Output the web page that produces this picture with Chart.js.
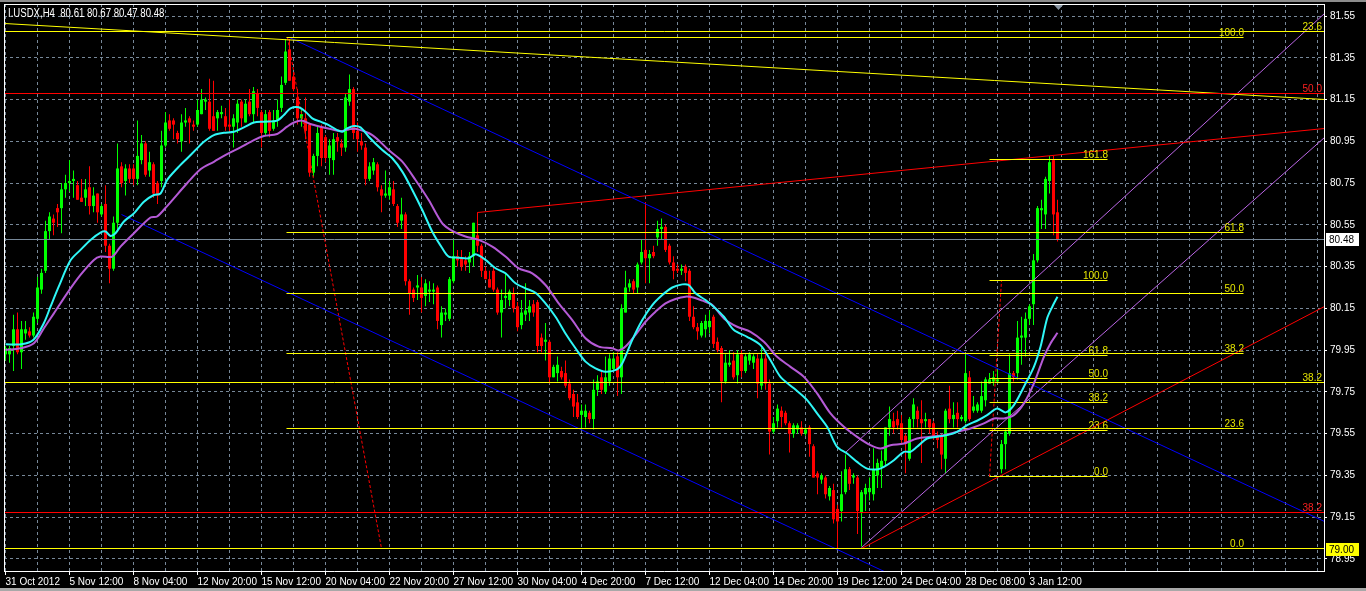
<!DOCTYPE html>
<html><head><meta charset="utf-8">
<script src="https://cdn.jsdelivr.net/npm/chart.js@4.4.1/dist/chart.umd.min.js"></script>
<style>html,body{margin:0;padding:0;background:#000;overflow:hidden}canvas{display:block}</style>
</head><body>
<canvas id="c" width="1366" height="591"></canvas>
<script>
// ---------- DATA (H4 bars, index 0 = 31 Oct 2012) ----------
const opens = [
79.93,79.93,79.97,80.05,79.94,80.03,80.04,80.02,80.10,80.24,
80.33,80.52,80.58,80.63,80.63,80.72,80.75,80.76,80.74,80.68,
80.68,80.73,80.64,80.70,80.60,80.65,80.45,80.34,80.56,80.83,
80.76,80.82,80.82,80.77,80.86,80.94,80.81,80.84,80.75,80.76,
80.93,81.05,81.05,80.99,80.95,81.04,81.06,81.03,81.03,81.08,
81.14,81.14,81.07,81.06,81.08,81.07,81.03,81.02,81.04,81.14,
81.04,81.14,81.08,81.18,81.09,80.99,81.09,81.01,81.05,81.11,
81.23,81.39,81.26,81.16,81.06,81.06,81.03,80.80,80.88,81.02,
80.97,80.87,80.86,80.97,80.94,80.92,81.14,81.20,81.00,80.95,
80.92,80.77,80.81,80.84,80.72,80.69,80.69,80.72,80.64,80.57,
80.60,80.28,80.24,80.25,80.25,80.21,80.23,80.23,80.25,80.07,
80.12,80.10,80.28,80.40,80.39,80.38,80.37,80.40,80.50,80.45,
80.33,80.29,80.33,80.24,80.13,80.20,80.19,80.22,80.16,80.07,
80.12,80.13,80.17,80.18,80.01,79.99,79.99,79.82,79.84,79.85,
79.84,79.79,79.74,79.70,79.64,79.63,79.65,79.62,79.76,79.82,
79.75,79.80,79.86,79.92,79.82,80.13,80.25,80.28,80.25,80.37,
80.43,80.39,80.42,80.49,80.53,80.54,80.45,80.37,80.34,80.33,
80.35,80.33,80.11,80.06,80.02,80.05,80.06,80.11,79.99,79.96,
79.80,79.88,79.90,79.83,79.93,79.85,79.90,79.89,79.91,79.78,
79.91,79.79,79.56,79.61,79.66,79.65,79.60,79.55,79.57,79.58,
79.55,79.58,79.49,79.36,79.33,79.34,79.25,79.28,79.19,79.18,
79.27,79.38,79.34,79.34,79.17,79.26,79.27,79.26,79.35,79.39,
79.42,79.58,79.61,79.62,79.60,79.54,79.43,79.62,79.66,79.62,
79.61,79.62,79.60,79.54,79.54,79.43,79.67,79.62,79.65,79.62,
79.61,79.82,79.66,79.66,79.66,79.71,79.79,79.80,79.80,79.38,
79.50,79.55,79.84,79.84,80.01,80.01,80.10,80.17,80.38,80.62,
80.60,80.76,80.86,80.61];
const highs = [
79.97,79.97,80.12,80.13,80.09,80.09,80.06,80.13,80.30,80.34,
80.57,80.61,80.60,80.65,80.75,80.79,80.86,80.81,80.76,80.77,
80.77,80.83,80.73,80.70,80.65,80.74,80.46,80.59,80.94,80.85,
80.84,80.84,80.84,81.05,80.98,80.95,80.90,80.85,80.76,81.00,
81.09,81.08,81.06,81.00,81.08,81.11,81.07,81.05,81.15,81.20,
81.16,81.25,81.24,81.10,81.12,81.11,81.15,81.08,81.15,81.15,
81.15,81.20,81.21,81.20,81.10,81.10,81.10,81.10,81.15,81.26,
81.44,81.44,81.28,81.20,81.10,81.16,81.04,80.89,81.02,81.03,
80.98,80.96,80.99,80.99,80.96,81.18,81.27,81.21,81.04,80.99,
80.94,80.85,80.87,80.85,80.74,80.81,80.76,80.76,80.65,80.68,
80.61,80.29,80.25,80.31,80.30,80.29,80.28,80.27,80.26,80.16,
80.15,80.30,80.48,80.43,80.43,80.40,80.42,80.56,80.61,80.46,
80.35,80.33,80.35,80.25,80.24,80.32,80.24,80.25,80.18,80.19,
80.27,80.19,80.19,80.19,80.03,80.08,80.00,79.88,79.92,79.87,
79.90,79.81,79.76,79.74,79.69,79.69,79.66,79.81,79.83,79.85,
79.92,79.93,79.94,79.94,80.17,80.33,80.29,80.29,80.37,80.48,
80.66,80.43,80.45,80.57,80.58,80.55,80.46,80.40,80.36,80.36,
80.36,80.34,80.16,80.08,80.09,80.12,80.14,80.12,80.01,79.97,
79.93,79.95,79.94,79.95,79.95,79.93,79.94,79.93,79.93,79.96,
79.93,79.81,79.63,79.69,79.68,79.66,79.61,79.60,79.60,79.61,
79.58,79.59,79.50,79.37,79.36,79.35,79.30,79.31,79.21,79.37,
79.45,79.39,79.36,79.35,79.28,79.31,79.34,79.48,79.43,79.47,
79.58,79.68,79.65,79.66,79.64,79.55,79.63,79.72,79.68,79.71,
79.65,79.62,79.61,79.56,79.55,79.67,79.78,79.70,79.70,79.64,
79.93,79.85,79.73,79.70,79.80,79.82,79.84,79.85,79.86,79.52,
79.57,79.93,79.85,80.09,80.11,80.13,80.17,80.41,80.64,80.67,
80.78,80.88,80.88,80.67];
const lows = [
79.90,79.89,79.85,79.93,79.86,80.00,80.01,80.01,80.08,80.22,
80.32,80.48,80.50,80.54,80.51,80.68,80.71,80.68,80.67,80.66,
80.64,80.60,80.61,80.56,80.59,80.42,80.27,80.33,80.52,80.73,
80.69,80.75,80.74,80.74,80.84,80.78,80.78,80.68,80.65,80.73,
80.92,81.00,80.96,80.94,80.90,81.02,80.94,81.00,81.02,81.08,
81.10,81.00,81.00,81.00,81.06,81.00,80.99,80.92,80.99,81.02,
81.04,81.07,81.04,81.07,80.92,80.98,80.97,81.00,81.02,81.09,
81.22,81.24,81.19,81.03,81.02,80.96,80.78,80.78,80.83,80.83,
80.85,80.79,80.79,80.90,80.88,80.90,81.12,80.96,80.90,80.91,
80.74,80.76,80.79,80.71,80.61,80.68,80.67,80.64,80.54,80.53,
80.26,80.12,80.18,80.19,80.13,80.16,80.18,80.17,80.05,80.01,
80.09,80.09,80.27,80.35,80.33,80.33,80.32,80.35,80.42,80.30,
80.29,80.25,80.23,80.12,80.01,80.15,80.16,80.13,80.04,80.05,
80.09,80.09,80.11,79.94,79.94,79.90,79.79,79.82,79.80,79.81,
79.77,79.71,79.63,79.62,79.57,79.58,79.60,79.57,79.73,79.74,
79.74,79.78,79.85,79.73,79.74,80.13,80.23,80.22,80.22,80.36,
80.27,80.27,80.39,80.45,80.48,80.42,80.36,80.29,80.32,80.31,
80.28,80.09,80.05,80.00,80.01,80.01,80.03,79.96,79.94,79.70,
79.79,79.87,79.81,79.79,79.82,79.84,79.88,79.86,79.72,79.76,
79.76,79.45,79.55,79.58,79.58,79.59,79.46,79.53,79.55,79.54,
79.54,79.44,79.34,79.26,79.31,79.24,79.23,79.12,79.00,79.13,
79.26,79.28,79.31,79.07,79.01,79.18,79.23,79.23,79.29,79.29,
79.40,79.54,79.55,79.57,79.50,79.36,79.42,79.58,79.58,79.41,
79.58,79.55,79.52,79.48,79.38,79.36,79.60,79.58,79.58,79.61,
79.60,79.61,79.65,79.65,79.65,79.68,79.79,79.78,79.79,79.36,
79.38,79.54,79.80,79.81,79.88,79.92,80.07,80.07,80.37,80.53,
80.53,80.70,80.50,80.47];
const closes = [
79.96,79.96,80.05,79.94,80.05,80.05,80.02,80.11,80.25,80.32,
80.52,80.59,80.56,80.61,80.72,80.75,80.76,80.77,80.67,80.66,
80.72,80.64,80.69,80.61,80.64,80.45,80.34,80.56,80.82,80.75,
80.82,80.77,80.77,80.88,80.94,80.79,80.85,80.70,80.69,80.93,
81.04,81.01,81.03,80.96,81.04,81.05,81.04,81.02,81.10,81.15,
81.15,81.01,81.00,81.09,81.09,81.02,81.02,81.06,81.13,81.06,
81.13,81.08,81.19,81.11,80.99,81.08,81.00,81.05,81.10,81.22,
81.38,81.24,81.20,81.06,81.08,81.00,80.80,80.88,80.99,80.87,
80.87,80.93,80.96,80.95,80.92,81.16,81.20,80.99,80.96,80.93,
80.77,80.83,80.85,80.73,80.69,80.70,80.73,80.65,80.56,80.60,
80.28,80.22,80.20,80.26,80.20,80.27,80.24,80.24,80.09,80.13,
80.13,80.29,80.40,80.38,80.35,80.36,80.40,80.56,80.45,80.33,
80.29,80.25,80.24,80.13,80.19,80.21,80.23,80.15,80.06,80.13,
80.14,80.16,80.13,79.97,79.97,80.00,79.82,79.87,79.88,79.82,
79.78,79.72,79.68,79.63,79.66,79.66,79.62,79.76,79.80,79.76,
79.82,79.91,79.91,79.82,80.15,80.25,80.27,80.24,80.36,80.42,
80.39,80.41,80.40,80.53,80.54,80.43,80.37,80.33,80.33,80.34,
80.32,80.11,80.06,80.04,80.08,80.09,80.09,79.98,79.95,79.80,
79.89,79.89,79.82,79.93,79.85,79.92,79.93,79.92,79.79,79.91,
79.79,79.56,79.60,79.67,79.63,79.60,79.55,79.59,79.59,79.55,
79.57,79.50,79.34,79.34,79.35,79.26,79.29,79.14,79.13,79.26,
79.38,79.31,79.35,79.18,79.27,79.29,79.29,79.38,79.41,79.42,
79.58,79.62,79.58,79.59,79.52,79.50,79.62,79.69,79.62,79.60,
79.62,79.58,79.54,79.52,79.45,79.66,79.62,79.64,79.62,79.63,
79.84,79.62,79.68,79.69,79.73,79.81,79.81,79.82,79.81,79.50,
79.56,79.84,79.82,80.01,80.02,80.10,80.16,80.38,80.63,80.63,
80.77,80.85,80.60,80.48];

// moving averages (bar index, price)
const fastMaBars = [0,4,7,9.6,11.25,13.3,16.25,18.75,21.25,23.75,25,26.25,27.5,29.6,32.1,34.6,37.1,38.75,40.4,42.9,45.4,47.9,49.6,52.1,54.6,57.1,59.6,62.1,64.6,67.9,69.6,71.25,73.3,75,76.7,78.75,80.8,82.9,84.2,85.4,87.1,88.75,90.8,94.2,96.7,99.2,101.7,104.2,106.7,109.2,110.8,113.3,115.8,117.5,120,122.5,125,127.5,130,132.5,135,137.5,140,142.5,145,147.5,150,152.9,154.2,156.7,159.2,161.7,164.2,166.7,169.2,170.8,172.5,175,177.5,179.6,182.1,185.4,188.75,191.25,193.75,197.1,200.4,202.9,205.4,207.9,210.4,212.9,215.4,217.9,219.6,222.1,224.6,226.25,227.9,230.4,232.9,235.4,237.9,240.4,242.9,245.4,247.9,250,252.1,254.6,257.1,258.75,260.4,261.7,263];
const fastMaValues = [79.978,79.978,80.0,80.08,80.158,80.254,80.38,80.43,80.478,80.513,80.518,80.497,80.51,80.566,80.605,80.661,80.693,80.70,80.765,80.82,80.868,80.916,80.948,80.98,80.991,80.996,81.017,81.04,81.044,81.049,81.076,81.108,81.113,81.092,81.06,81.044,81.028,81.004,80.996,81.012,81.023,81.017,80.972,80.908,80.869,80.805,80.717,80.621,80.517,80.438,80.398,80.393,80.39,80.409,80.382,80.342,80.318,80.27,80.246,80.225,80.174,80.11,80.03,79.959,79.895,79.863,79.847,79.858,79.887,79.999,80.094,80.166,80.214,80.25,80.265,80.262,80.222,80.19,80.15,80.11,80.046,80.014,79.974,79.902,79.822,79.767,79.711,79.647,79.583,79.487,79.455,79.415,79.383,79.379,79.391,79.423,79.463,79.463,79.487,79.527,79.535,79.543,79.559,79.591,79.612,79.639,79.671,79.652,79.687,79.775,79.87,79.966,80.102,80.158,80.206];
const slowMaBars = [0,3.75,7.1,9.6,12.1,15.4,18.75,22.1,23.75,26.7,28.75,32.1,36.25,37.9,40.4,45.4,48.75,52.1,55.4,58.75,62.1,64.6,67.9,70.4,72.1,74.2,76.25,78.75,81.25,83.75,85.8,87.5,91.7,95.8,99.2,102.5,105.8,109.2,111.7,115,118.3,121.7,125,128.3,131.7,135,138.3,141.7,145,148.3,151.7,153.3,155,157.5,160,162.5,165,167.5,170,171.7,174.2,176.7,179.6,182.9,186.25,189.6,192.9,196.25,199.6,202.9,206.25,209.6,212.9,216.25,218.75,221.25,224.6,227.9,231.25,234.6,237.9,241.25,244.6,247.1,249.6,252.1,254.6,257.1,259.6,261.25,263];
const slowMaValues = [79.951,79.959,79.983,80.055,80.126,80.222,80.31,80.382,80.398,80.398,80.446,80.51,80.585,80.59,80.64,80.749,80.816,80.852,80.889,80.921,80.956,80.975,80.985,81.02,81.04,81.049,81.033,81.02,81.009,80.999,81.007,81.01,80.98,80.908,80.853,80.765,80.669,80.557,80.521,80.494,80.478,80.446,80.398,80.342,80.318,80.262,80.174,80.094,80.007,79.967,79.959,79.948,79.967,80.023,80.086,80.134,80.174,80.195,80.206,80.203,80.187,80.166,80.102,80.062,80.038,79.99,79.918,79.87,79.822,79.743,79.647,79.583,79.535,79.495,79.479,79.495,79.503,79.527,79.535,79.543,79.559,79.575,79.599,79.623,79.623,79.639,79.695,79.791,79.918,79.982,80.033];

// axis ticks
const priceTicks = [78.95,79.15,79.35,79.55,79.75,79.95,80.15,80.35,80.55,80.75,80.95,81.15,81.35,81.55];
const dateLabels = ['31 Oct 2012','5 Nov 12:00','8 Nov 04:00','12 Nov 20:00','15 Nov 12:00','20 Nov 04:00','22 Nov 20:00','27 Nov 12:00','30 Nov 04:00','4 Dec 20:00','7 Dec 12:00','12 Dec 04:00','14 Dec 20:00','19 Dec 12:00','24 Dec 04:00','28 Dec 08:00','3 Jan 12:00'];
const dateLabelBars = [0,16,32,48,64,80,96,112,128,144,160,176,192,208,224,240,256];

// drawn objects (bar index, price)
const fibMainLevels = ['100.0','61.8','50.0','38.2','23.6','0.0'];
const fibMainPrices = [81.448,80.511,80.222,79.933,79.575,78.998];
const fibMainSpan = [70.25,309.6];
const fibSmallLevels = ['161.8','100.0','61.8','50.0','38.2','23.6','0.0'];
const fibSmallPrices = [80.864,80.284,79.925,79.815,79.700,79.567,79.345];
const fibSmallSpan = [245.9,275.6];
const yellowFullLevels = ['23.6','38.2'];
const yellowFullPrices = [81.477,79.796];
const redFullLevels = ['50.0','38.2'];
const redFullPrices = [81.180,79.174];
const lastPrice = 80.48;
const markedPrice = 79.00;
const titleText = 'I.USDX,H4  80.61 80.67 80.47 80.48';
// trend lines: [bar1, price1, bar2, price2]
const yellowTrend = [-0.375,81.512,329.625,81.148];
const blueUpper = [71.1,81.448,329.625,79.13];
const blueLower = [29.1,80.60,240,78.709];
const redUpper = [117.9,80.607,329.625,81.009];
const redLower = [213.9,79.002,329.625,80.159];
const violetUpper = [209.9,79.462,329.625,81.564];
const violetLower = [213.9,79.007,329.625,80.97];
const fibMainTrend = [70.4,81.448,94.1,78.998];
const fibSmallTrend = [245.9,79.345,248.9,80.284];

// ---------- RENDER HELPERS ----------
let SNAP = false;
const snapPx = v => Math.floor(v) + 0.5;
[CanvasRenderingContext2D.prototype, (typeof Path2D !== 'undefined' ? Path2D.prototype : null)].forEach(P => {
  if (!P) return;
  const mt = P.moveTo, lt = P.lineTo;
  P.moveTo = function (x, y) { return SNAP ? mt.call(this, snapPx(x), snapPx(y)) : mt.call(this, x, y); };
  P.lineTo = function (x, y) { return SNAP ? lt.call(this, snapPx(x), snapPx(y)) : lt.call(this, x, y); };
});

const X_MIN = -0.375, X_MAX = 329.625;
const UP = '#00ff00', DOWN = '#ff0000';
const FONT = '"Liberation Sans", Arial, sans-serif';
const candleColors = closes.map((c, i) => c >= opens[i] ? UP : DOWN);

function seg(arr, color, width, dash, order) {
  return { type: 'line', data: [{x: arr[0], y: arr[1]}, {x: arr[2], y: arr[3]}],
    borderColor: color, borderWidth: width, borderDash: dash || [], pointRadius: 0,
    pointHoverRadius: 0, fill: false, tension: 0, order: order, snap: true };
}
function hline(x1, x2, price, color, width, order) {
  return seg([x1, price, x2, price], color, width, [], order);
}

const datasets = [];
datasets.push({ type: 'line', data: fastMaBars.map((b, k) => ({x: b, y: fastMaValues[k]})),
  borderColor: '#2ff7f7', borderWidth: 2, pointRadius: 0, tension: 0.3, fill: false, order: 1 });
datasets.push({ type: 'line', data: slowMaBars.map((b, k) => ({x: b, y: slowMaValues[k]})),
  borderColor: '#b55ad6', borderWidth: 2, pointRadius: 0, tension: 0.3, fill: false, order: 1 });
datasets.push(hline(X_MIN, X_MAX, lastPrice, '#778899', 1, 3));
datasets.push(hline(X_MIN, X_MAX, markedPrice, '#ffff00', 1, 2));
yellowFullPrices.forEach(p => datasets.push(hline(X_MIN, X_MAX, p, '#ffff00', 1, 2)));
redFullPrices.forEach(p => datasets.push(hline(X_MIN, X_MAX, p, '#ff0000', 1, 2)));
fibMainPrices.forEach(p => datasets.push(hline(fibMainSpan[0], fibMainSpan[1], p, '#ffff00', 1, 2)));
fibSmallPrices.forEach(p => datasets.push(hline(fibSmallSpan[0], fibSmallSpan[1], p, '#ffff00', 1, 2)));
datasets.push(seg(yellowTrend, '#ffff00', 1, [], 2));
datasets.push(seg(blueUpper, '#0000ff', 1, [], 2));
datasets.push(seg(blueLower, '#0000ff', 1, [], 2));
datasets.push(seg(redUpper, '#ff0000', 1, [], 2));
datasets.push(seg(redLower, '#ff0000', 1, [], 2));
datasets.push(seg(violetUpper, '#bb66e6', 1, [], 2));
datasets.push(seg(violetLower, '#bb66e6', 1, [], 2));
datasets.push(seg(fibMainTrend, '#ff0000', 1, [3, 2], 2));
datasets.push(seg(fibSmallTrend, '#ff0000', 1, [3, 2], 2));
datasets.push({ type: 'bar', data: opens.map((o, i) => ({x: i, y: [o, closes[i]]})),
  backgroundColor: candleColors, borderWidth: 0, barThickness: 3, minBarLength: 1,
  grouped: false, inflateAmount: 0, order: 5 });
datasets.push({ type: 'bar', data: lows.map((l, i) => ({x: i, y: [l, highs[i]]})),
  backgroundColor: candleColors, borderWidth: 0, barThickness: 1, minBarLength: 1,
  grouped: false, inflateAmount: 0, order: 6 });

const overlay = {
  id: 'overlay',
  beforeDraw(chart) {
    const c = chart.ctx;
    c.save(); c.fillStyle = '#000'; c.fillRect(0, 0, chart.width, chart.height); c.restore();
  },
  beforeDatasetDraw(chart, args) { SNAP = !!chart.data.datasets[args.index].snap; },
  afterDatasetDraw() { SNAP = false; },
  afterDraw(chart) {
    const c = chart.ctx, a = chart.chartArea, xs = chart.scales.x, ys = chart.scales.y;
    c.save();
    c.strokeStyle = '#ffffff'; c.lineWidth = 1;
    c.beginPath();
    c.moveTo(a.left + 0.5, a.top); c.lineTo(a.left + 0.5, a.bottom);
    c.moveTo(a.left, a.top + 0.5); c.lineTo(a.right, a.top + 0.5);
    c.stroke();
    c.font = '10px ' + FONT; c.textAlign = 'right'; c.textBaseline = 'alphabetic';
    const lab = (t, bar, p, col) => { c.fillStyle = col; c.fillText(t, Math.round(xs.getPixelForValue(bar)), Math.floor(ys.getPixelForValue(p)) - 1); };
    fibMainLevels.forEach((t, k) => lab(t, fibMainSpan[1], fibMainPrices[k], '#e6e600'));
    fibSmallLevels.forEach((t, k) => lab(t, fibSmallSpan[1], fibSmallPrices[k], '#e6e600'));
    yellowFullLevels.forEach((t, k) => { c.fillStyle = '#e6e600'; c.fillText(t, a.right - 2, Math.floor(ys.getPixelForValue(yellowFullPrices[k])) - 1); });
    redFullLevels.forEach((t, k) => { c.fillStyle = '#ff2020'; c.fillText(t, a.right - 2, Math.floor(ys.getPixelForValue(redFullPrices[k])) - 1); });
    c.textAlign = 'left'; c.textBaseline = 'middle';
    const tag = (p, bg) => {
      const py = Math.round(ys.getPixelForValue(p));
      c.fillStyle = bg; c.fillRect(a.right + 2, py - 6, 33, 13);
      c.fillStyle = '#000'; c.fillText(p.toFixed(2), a.right + 5, py + 1);
    };
    tag(lastPrice, '#ffffff');
    tag(markedPrice, '#ffff00');
    c.fillStyle = '#8a96a3';
    c.beginPath(); c.moveTo(1054, 5); c.lineTo(1063, 5); c.lineTo(1058.5, 10); c.closePath(); c.fill();
    c.fillStyle = '#ffffff'; c.font = '12px ' + FONT; c.textBaseline = 'alphabetic';
    c.save(); c.translate(8, 17); c.scale(0.8, 1); c.fillText(titleText, 0, 0); c.restore();
    c.fillStyle = '#8c8c8c'; c.fillRect(0, 0, chart.width, 2);
    c.fillStyle = '#a8a8a8'; c.fillRect(0, 588, chart.width, 3);
    c.restore();
  }
};

new Chart(document.getElementById('c'), {
  type: 'bar',
  data: { datasets },
  options: {
    responsive: false, animation: false, events: [], devicePixelRatio: 1,
    layout: { padding: { left: 4, top: 4, right: 0, bottom: 0 } },
    plugins: { legend: { display: false }, tooltip: { enabled: false } },
    scales: {
      x: {
        type: 'linear', min: X_MIN, max: X_MAX, offset: false,
        grid: { color: '#778899', offset: false, tickLength: 4, tickBorderDash: [],
                tickColor: ctx => (ctx.tick && dateLabelBars.includes(ctx.tick.value)) ? '#ffffff' : 'rgba(0,0,0,0)' },
        border: { color: '#ffffff', dash: [3, 3] },
        ticks: { autoSkip: false, maxRotation: 0, minRotation: 0, align: 'start', padding: 1,
                 color: '#ffffff', font: { family: FONT, size: 10 },
                 callback: v => { const k = dateLabelBars.indexOf(v); return k >= 0 ? dateLabels[k] : ''; } },
        afterBuildTicks: s => { const t = []; for (let b = 0; b <= 328; b += 8) t.push({ value: b }); s.ticks = t; },
        afterFit: s => { s.height = 20; s.paddingLeft = 0; s.paddingRight = 0; }
      },
      y: {
        type: 'linear', position: 'right', min: 78.8925, max: 81.6075,
        grid: { color: '#778899', tickLength: 3, tickColor: '#ffffff', tickBorderDash: [] },
        border: { color: '#ffffff', dash: [3, 3] },
        ticks: { autoSkip: false, padding: 3, color: '#ffffff', font: { family: FONT, size: 10 },
                 callback: v => v.toFixed(2) },
        afterBuildTicks: s => { s.ticks = priceTicks.map(v => ({ value: v })); },
        afterFit: s => { s.width = 42; s.paddingTop = 0; s.paddingBottom = 0; }
      }
    }
  },
  plugins: [overlay]
});
</script>
</body></html>
